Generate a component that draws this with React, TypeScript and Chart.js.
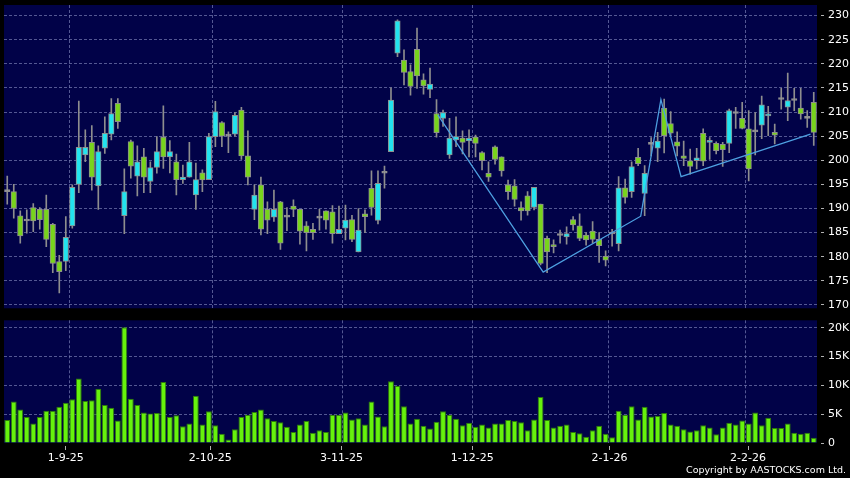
import React, { useEffect, useRef } from 'react';
import { Chart, registerables } from 'chart.js';

Chart.register(...registerables);

// ---- Data ----
// trading-day index 0..124
const OPEN = [
  193.5, 193.5, 188.5, 187.4, 190.2, 189.8, 189.8, 186.7, 179.0, 179.0,
  186.4, 195.0, 201.1, 203.7, 194.7, 202.5, 205.4, 211.8, 188.5, 203.9,
  196.7, 200.7, 195.6, 198.5, 204.8, 200.7, 199.7, 196.0, 196.5, 192.8,
  197.4, 196.0, 204.9, 207.8, 205.0, 205.4, 210.4, 200.9, 189.8, 194.9,
  189.8, 188.2, 191.4, 188.2, 190.5, 189.8, 186.4, 185.7, 188.0, 189.5,
  189.3, 184.8, 185.9, 187.7, 181.0, 188.9, 194.2, 187.5, 197.3, 201.8,
  222.2, 220.8, 218.4, 223.0, 216.7, 214.7, 209.7, 208.7, 201.1, 204.2,
  204.6, 204.0, 204.8, 201.6, 197.3, 202.8, 200.7, 194.9, 194.7, 190.2,
  192.6, 190.2, 190.9, 183.8, 182.4, 184.4, 184.1, 187.7, 186.4, 184.5,
  185.3, 183.6, 180.1, 184.7, 182.7, 194.3, 193.5, 200.6, 193.1, 203.3,
  202.5, 210.8, 207.6, 203.8, 200.9, 199.9, 199.9, 205.6, 203.7, 203.5,
  203.3, 203.5, 209.7, 208.7, 206.5, 205.9, 207.3, 209.2, 205.8, 212.6,
  211.0, 212.4, 210.8, 208.7, 212.0,
];
const HIGH = [
  196.7, 195.0, 189.5, 189.7, 191.0, 190.2, 192.8, 186.9, 180.3, 188.3,
  194.9, 212.3, 206.3, 207.2, 203.0, 209.0, 212.8, 212.8, 198.2, 204.2,
  203.0, 202.5, 199.7, 204.9, 211.3, 204.1, 201.3, 199.0, 203.7, 199.4,
  198.0, 205.6, 212.2, 208.0, 205.9, 209.9, 211.0, 206.1, 194.9, 196.5,
  191.4, 193.8, 191.5, 190.2, 191.8, 189.8, 187.3, 186.9, 189.8, 189.5,
  190.6, 190.5, 190.7, 188.6, 190.0, 189.7, 197.8, 197.8, 198.8, 215.0,
  229.1, 222.9, 219.8, 227.4, 217.9, 219.1, 212.6, 210.4, 208.7, 209.0,
  206.1, 206.3, 205.2, 201.8, 199.7, 203.0, 200.7, 195.9, 196.0, 191.4,
  193.5, 194.4, 190.9, 184.3, 183.5, 185.5, 186.2, 188.3, 188.9, 185.0,
  187.3, 185.0, 181.2, 185.7, 196.6, 196.1, 199.7, 202.5, 198.9, 204.7,
  205.8, 212.7, 210.1, 205.9, 204.0, 202.3, 202.5, 206.5, 204.7, 203.8,
  203.7, 210.6, 211.0, 212.0, 210.3, 209.9, 213.3, 211.2, 207.5, 214.9,
  218.1, 214.9, 214.9, 210.3, 214.1,
];
const LOW = [
  190.9, 188.0, 182.8, 184.9, 185.2, 185.7, 182.1, 176.7, 172.5, 177.1,
  185.9, 193.3, 199.7, 193.8, 189.8, 201.4, 204.2, 206.6, 184.8, 196.3,
  192.6, 193.3, 193.3, 197.3, 198.3, 197.4, 192.8, 195.2, 196.5, 189.8,
  193.5, 196.0, 202.8, 202.8, 201.6, 205.0, 200.2, 194.9, 187.7, 184.5,
  184.8, 187.3, 181.5, 185.4, 188.3, 182.6, 181.2, 183.6, 185.5, 185.7,
  182.8, 184.8, 183.5, 183.1, 181.0, 185.0, 188.6, 186.8, 194.2, 201.8,
  221.5, 215.6, 213.5, 214.9, 213.7, 213.0, 204.8, 207.0, 200.4, 202.8,
  201.3, 200.7, 200.7, 198.0, 195.6, 199.2, 196.7, 191.9, 190.5, 187.6,
  188.6, 189.7, 178.3, 176.7, 180.8, 182.8, 182.6, 185.5, 183.3, 182.4,
  182.8, 178.8, 178.1, 182.2, 181.2, 191.1, 192.3, 198.9, 188.5, 200.9,
  199.7, 201.5, 204.9, 200.9, 198.9, 197.1, 198.2, 198.9, 200.2, 201.3,
  198.7, 201.6, 206.6, 206.5, 195.7, 201.1, 204.5, 205.1, 203.4, 210.6,
  208.2, 210.3, 208.5, 206.8, 203.1,
];
const CLOSE = [
  193.5, 190.0, 184.3, 187.4, 187.4, 187.7, 183.6, 178.6, 176.9, 184.0,
  194.4, 202.7, 202.7, 196.5, 201.8, 205.6, 209.7, 208.0, 193.5, 198.8,
  199.7, 196.5, 198.5, 201.8, 200.7, 201.8, 196.0, 196.5, 199.7, 196.0,
  195.9, 204.9, 210.1, 205.0, 205.0, 209.3, 200.9, 196.5, 192.8, 185.7,
  187.6, 189.8, 182.8, 188.2, 189.8, 185.3, 185.0, 185.0, 188.0, 187.6,
  184.8, 185.7, 187.6, 183.6, 185.5, 188.3, 190.2, 195.2, 197.3, 212.5,
  228.9, 218.2, 215.3, 217.5, 215.4, 215.8, 205.7, 209.9, 204.6, 204.9,
  203.7, 204.6, 203.5, 199.9, 196.5, 200.2, 197.8, 193.5, 191.9, 189.5,
  189.5, 194.4, 178.6, 181.0, 182.1, 184.4, 184.8, 186.6, 183.8, 183.5,
  183.6, 182.3, 179.3, 184.7, 194.3, 192.3, 198.7, 199.3, 197.3, 203.3,
  204.0, 205.1, 205.6, 202.9, 200.4, 198.7, 200.5, 199.8, 204.0, 202.0,
  202.2, 210.3, 209.7, 206.6, 198.2, 205.9, 211.5, 209.4, 205.2, 212.6,
  212.4, 212.4, 209.6, 208.7, 205.8,
];
// volume, thousands of shares
const VOLUME_K = [
  4.0, 7.2, 5.8, 4.5, 3.4, 4.5, 5.6, 5.6, 6.3, 7.0,
  7.6, 11.2, 7.3, 7.4, 9.4, 6.6, 6.1, 3.9, 20.1, 7.7,
  6.6, 5.3, 5.1, 5.2, 10.6, 4.5, 4.8, 2.9, 3.4, 8.2,
  3.2, 5.5, 3.1, 1.6, 0.6, 2.4, 4.5, 4.9, 5.4, 5.8,
  4.3, 3.8, 3.6, 2.8, 1.9, 3.2, 3.8, 1.8, 2.2, 1.9,
  4.9, 4.9, 5.3, 4.1, 4.3, 3.2, 7.2, 4.6, 2.9, 10.7,
  9.9, 6.4, 3.4, 4.2, 3.0, 2.5, 3.7, 5.5, 4.9, 4.2,
  3.1, 3.5, 2.8, 3.2, 2.7, 3.4, 3.4, 4.0, 3.8, 3.6,
  2.2, 4.1, 8.0, 4.0, 2.7, 3.0, 3.2, 1.9, 1.7, 1.1,
  2.2, 3.0, 1.6, 1.0, 5.6, 4.9, 6.4, 4.1, 6.3, 4.6,
  4.7, 5.2, 3.2, 3.0, 2.4, 2.0, 2.2, 3.1, 2.7, 1.5,
  2.7, 3.5, 3.2, 3.9, 3.4, 5.3, 3.1, 4.4, 2.6, 2.6,
  3.4, 1.8, 1.6, 1.8, 0.9,
];
// zigzag trend line: positions in trading-day index units and price
const ZIGZAG_X = [66.2, 82.4, 97.4, 100.5, 103.6, 123.5];
const ZIGZAG_Y = [209.4, 176.8, 188.4, 212.6, 196.6, 205.4];

const DATE_TICK_INDEX = [9, 31.2, 51.4, 71.5, 92.6, 113.9];
const DATE_TICK_LABELS = ['1-9-25', '2-10-25', '3-11-25', '1-12-25', '2-1-26', '2-2-26'];
const DATE_GRID_INDEX = [9.5, 31.5, 51.5, 71.5, 92.5, 113.5];
const PRICE_TICKS = [170, 175, 180, 185, 190, 195, 200, 205, 210, 215, 220, 225, 230];
const VOLUME_TICKS = [0, 5, 10, 15, 20];
const VOLUME_TICK_LABELS = ['0', '5K', '10K', '15K', '20K'];

// ---- Styles ----
const NAVY = '#010248';
const GRID = 'rgba(120,126,180,0.7)';
const TICK_MARK = '#b0b0b0';
const CYAN = '#22e3ef';
const GREEN = '#78d41c';
const DOJI = '#a0a0a0';
const EDGE = '#8e8e8e';
const VOL_FILL = '#66f20c';
const VOL_EDGE = '#2f7a0a';
const LINE = '#4d9fe0';
const FONT = { family: 'DejaVu Sans', size: 11 };
const X_MIN = -0.5;
const X_MAX = OPEN.length - 0.5;

const plotBg = {
  id: 'plotBg',
  beforeDraw(chart: any) {
    const { ctx, chartArea: a } = chart;
    ctx.save();
    ctx.fillStyle = NAVY;
    ctx.fillRect(a.left, a.top, a.right - a.left, a.bottom - a.top);
    ctx.restore();
  },
};

const gridAxis = () => ({
  type: 'linear',
  position: 'bottom',
  min: X_MIN,
  max: X_MAX,
  offset: false,
  afterBuildTicks: (s: any) => {
    s.ticks = DATE_GRID_INDEX.map((v) => ({ value: v }));
  },
  ticks: { display: false },
  grid: { color: GRID, lineWidth: 1, drawTicks: false, offset: false },
  border: { display: false, dash: [3, 2] },
  afterFit: (s: any) => {
    s.height = 0;
    s.paddingLeft = 0;
    s.paddingRight = 0;
  },
});

export default function App() {
  const priceRef = useRef<HTMLCanvasElement>(null);
  const volRef = useRef<HTMLCanvasElement>(null);

  useEffect(() => {
    const bodyColors = OPEN.map((o, i) => (CLOSE[i] > o ? CYAN : CLOSE[i] < o ? GREEN : DOJI));

    const price = new Chart(priceRef.current as HTMLCanvasElement, {
      type: 'bar',
      data: {
        datasets: [
          {
            type: 'line',
            data: ZIGZAG_X.map((x, i) => ({ x, y: ZIGZAG_Y[i] })),
            borderColor: LINE,
            borderWidth: 1.3,
            pointRadius: 0,
            order: 0,
          } as any,
          {
            type: 'bar',
            data: OPEN.map((o, i) => ({ x: i, y: [o, CLOSE[i]] })),
            backgroundColor: bodyColors,
            borderColor: EDGE,
            borderWidth: 1,
            borderSkipped: false,
            grouped: false,
            categoryPercentage: 1,
            barPercentage: 1,
            maxBarThickness: 5.5,
            minBarLength: 2,
            order: 1,
          } as any,
          {
            type: 'bar',
            data: LOW.map((l, i) => ({ x: i, y: [l, HIGH[i]] })),
            backgroundColor: EDGE,
            borderWidth: 0,
            grouped: false,
            categoryPercentage: 1,
            barPercentage: 1,
            maxBarThickness: 1,
            order: 2,
          } as any,
        ],
      },
      options: {
        animation: false,
        responsive: false,
        events: [],
        layout: { padding: { top: 5, left: 4, right: 0, bottom: 3.7 } },
        plugins: { legend: { display: false }, tooltip: { enabled: false } },
        scales: {
          x: { type: 'linear', min: X_MIN, max: X_MAX, offset: false, display: false, grid: { offset: false } },
          xg: gridAxis(),
          y: {
            type: 'linear',
            position: 'right',
            min: 169.3,
            max: 232.2,
            afterBuildTicks: (s: any) => {
              s.ticks = PRICE_TICKS.map((v) => ({ value: v }));
            },
            ticks: { color: '#ffffff', font: FONT, padding: 4 },
            grid: {
              color: GRID,
              lineWidth: 1,
              tickLength: 7,
              tickColor: TICK_MARK,
              tickBorderDash: [0, 4, 3, 30],
            },
            border: { display: false, dash: [3, 2] },
            afterFit: (s: any) => {
              s.width = 33;
              s.paddingTop = 0;
              s.paddingBottom = 0;
            },
          },
        } as any,
      },
      plugins: [plotBg],
    });

    const volume = new Chart(volRef.current as HTMLCanvasElement, {
      type: 'bar',
      data: {
        datasets: [
          {
            data: VOLUME_K.map((v, i) => ({ x: i, y: v })),
            backgroundColor: VOL_FILL,
            borderColor: VOL_EDGE,
            borderWidth: 1,
            borderSkipped: 'start',
            categoryPercentage: 1,
            barPercentage: 0.9,
          } as any,
        ],
      },
      options: {
        animation: false,
        responsive: false,
        events: [],
        layout: { padding: { top: 8.3, left: 4, right: 0, bottom: 13 } },
        plugins: { legend: { display: false }, tooltip: { enabled: false } },
        scales: {
          x: {
            type: 'linear',
            position: 'bottom',
            min: X_MIN,
            max: X_MAX,
            offset: false,
            afterBuildTicks: (s: any) => {
              s.ticks = DATE_TICK_INDEX.map((v) => ({ value: v }));
            },
            ticks: {
              color: '#ffffff',
              font: FONT,
              padding: 2,
              autoSkip: false,
              maxRotation: 0,
              callback: (_v: any, i: number) => DATE_TICK_LABELS[i],
            },
            grid: {
              offset: false,
              drawOnChartArea: false,
              drawTicks: true,
              tickLength: 7,
              tickColor: TICK_MARK,
              tickBorderDash: [0, 3, 4, 30],
            },
            border: { display: false },
            afterFit: (s: any) => {
              s.height = 22;
              s.paddingLeft = 0;
              s.paddingRight = 0;
            },
          },
          xg: gridAxis(),
          y: {
            type: 'linear',
            position: 'right',
            min: 0,
            max: 21.3,
            afterBuildTicks: (s: any) => {
              s.ticks = VOLUME_TICKS.map((v) => ({ value: v }));
            },
            ticks: {
              color: '#ffffff',
              font: FONT,
              padding: 4,
              callback: (_v: any, i: number) => VOLUME_TICK_LABELS[i],
            },
            grid: {
              color: (c: any) => (c.tick && c.tick.value === 0 ? 'rgba(0,0,0,0)' : GRID),
              lineWidth: 1,
              tickLength: 7,
              tickColor: TICK_MARK,
              tickBorderDash: [0, 4, 3, 30],
            },
            border: { display: false, dash: [3, 2] },
            afterFit: (s: any) => {
              s.width = 33;
              s.paddingTop = 0;
              s.paddingBottom = 0;
            },
          },
        } as any,
      },
      plugins: [plotBg],
    });

    return () => {
      price.destroy();
      volume.destroy();
    };
  }, []);

  return (
    <div
      style={{
        position: 'fixed',
        left: 0,
        top: 0,
        width: 850,
        height: 478,
        background: '#000',
        overflow: 'hidden',
      }}
    >
      <canvas ref={priceRef} width={850} height={312} style={{ position: 'absolute', left: 0, top: 0 }} />
      <canvas ref={volRef} width={850} height={166} style={{ position: 'absolute', left: 0, top: 312 }} />
      <div
        style={{
          position: 'absolute',
          right: 4,
          top: 464,
          font: '9.5px "DejaVu Sans"',
          lineHeight: '12px',
          color: '#ffffff',
          whiteSpace: 'nowrap',
        }}
      >
        Copyright by AASTOCKS.com Ltd.
      </div>
    </div>
  );
}
